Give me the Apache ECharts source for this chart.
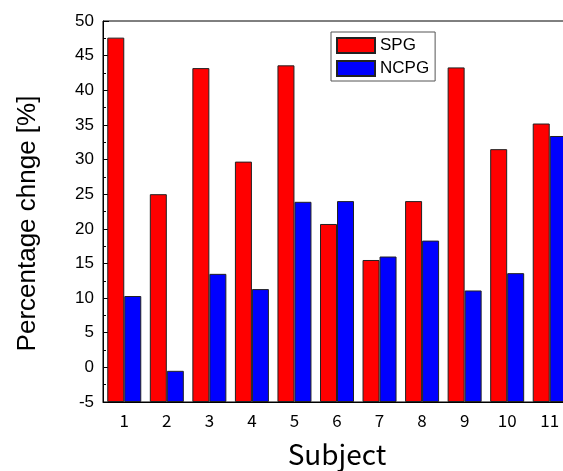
<!DOCTYPE html>
<html><head><meta charset="utf-8">
<script src="https://cdn.jsdelivr.net/npm/echarts@6/dist/echarts.min.js"></script>
<style>html,body{margin:0;padding:0;background:#fff}#c{width:563px;height:471px}</style>
</head><body><div id="c"></div>
<script>
var categories = ['1','2','3','4','5','6','7','8','9','10','11'];
var spg = [47.6, 25.0, 43.2, 29.7, 43.6, 20.7, 15.5, 24.0, 43.3, 31.5, 35.2];
var ncpg = [10.3, -0.5, 13.5, 11.3, 23.9, 24.0, 16.0, 18.3, 11.1, 13.6, 33.4];
var yTicks = {min: -5, max: 50, interval: 5};

// Bars in the reference rise from the bottom of the axis (-5), so each bar
// is stacked on a transparent base of yTicks.min.
var base = categories.map(function () { return yTicks.min; });
function fromBase(arr) { return arr.map(function (v) { return v - yTicks.min; }); }

var chart = echarts.init(document.getElementById('c'), null, {renderer: 'canvas'});
chart.setOption({
  animation: false,
  backgroundColor: '#fff',
  tooltip: {show: false},
  grid: {left: 103, top: 21, width: 468, height: 381, containLabel: false, outerBoundsMode: 'none',
         show: true, borderColor: '#000', borderWidth: 1, backgroundColor: 'transparent'},
  legend: {
    orient: 'vertical', left: 331, top: 32,
    data: ['SPG', 'NCPG'],
    itemWidth: 38, itemHeight: 15, itemGap: 6,
    padding: [5, 6, 4, 5],
    borderColor: '#555', borderWidth: 1,
    textStyle: {fontFamily: 'Liberation Sans, Arial, sans-serif', fontSize: 17, color: '#000'},
    icon: 'rect'
  },
  xAxis: {
    type: 'category', data: categories,
    name: 'Subject', nameLocation: 'middle', nameGap: 38,
    nameTextStyle: {fontFamily: 'Noto Sans CJK JP', fontSize: 28, color: '#000'},
    axisLine: {onZero: false, lineStyle: {color: '#000', width: 1}},
    axisTick: {show: false},
    axisLabel: {fontFamily: 'Noto Sans CJK JP', fontSize: 17, color: '#000', margin: 10},
    splitLine: {show: false}
  },
  yAxis: {
    type: 'value', min: yTicks.min, max: yTicks.max, interval: yTicks.interval,
    name: 'Percentage chnge [%]', nameLocation: 'middle', nameGap: 62,
    nameTextStyle: {fontFamily: 'Liberation Sans, Arial, sans-serif', fontSize: 26, color: '#000', padding: [0, 24, 0, 0]},
    axisLine: {show: true, lineStyle: {color: '#000', width: 1}},
    axisTick: {show: true, inside: true, length: 6, lineStyle: {color: '#000'}},
    minorTick: {show: true, splitNumber: 2, length: 3, lineStyle: {color: '#000'}},
    axisLabel: {fontFamily: 'Liberation Sans, Arial, sans-serif', fontSize: 17, color: '#000', margin: 9},
    splitLine: {show: false}
  },
  series: [
    {name: 'baseA', type: 'bar', stack: 'a', stackStrategy: 'all', data: base, barWidth: 17, barGap: '0%',
     itemStyle: {color: 'rgba(0,0,0,0)', borderWidth: 0}, silent: true},
    {name: 'SPG', type: 'bar', stack: 'a', stackStrategy: 'all', data: fromBase(spg), barWidth: 17, barGap: '0%',
     itemStyle: {color: '#ff0000', borderColor: '#222', borderWidth: 1}},
    {name: 'baseB', type: 'bar', stack: 'b', stackStrategy: 'all', data: base, barWidth: 17, barGap: '0%',
     itemStyle: {color: 'rgba(0,0,0,0)', borderWidth: 0}, silent: true},
    {name: 'NCPG', type: 'bar', stack: 'b', stackStrategy: 'all', data: fromBase(ncpg), barWidth: 17, barGap: '0%',
     itemStyle: {color: '#0000ff', borderColor: '#222', borderWidth: 1}}
  ]
});
</script></body></html>
